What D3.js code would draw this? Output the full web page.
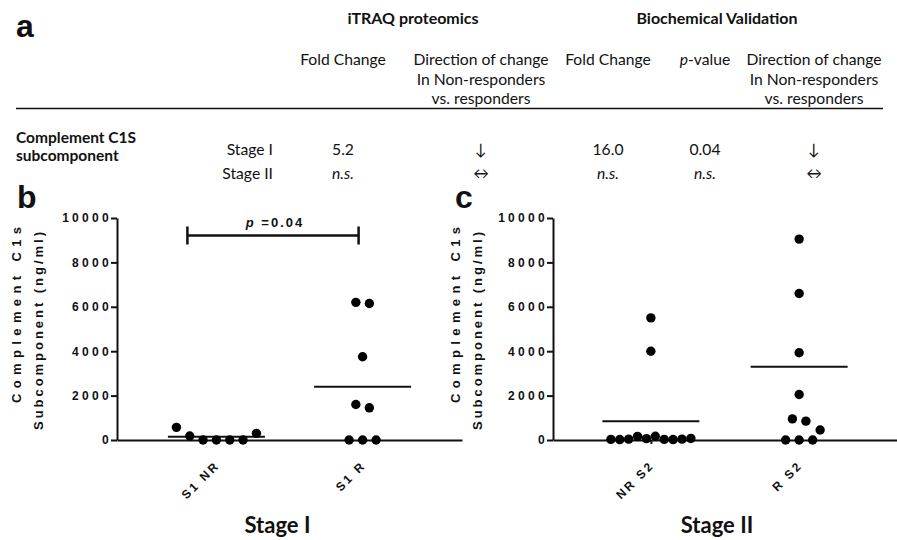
<!DOCTYPE html>
<html>
<head>
<meta charset="utf-8">
<script src="https://cdn.jsdelivr.net/npm/d3@7"></script>
<style>
body { margin: 0; background: #fff; }
text { fill: #111; }
</style>
</head>
<body>
<svg width="897" height="540"></svg>
<script>
// ---- data ----
// panel a (table)
var groupHeads = ['iTRAQ proteomics', 'Biochemical Validation'];
var colHeads = [
	['Fold Change'],
	['Direction of change', 'In Non-responders', 'vs. responders'],
	['Fold Change'],
	['p-value'],
	['Direction of change', 'In Non-responders', 'vs. responders']
];
var proteinName = ['Complement C1S', 'subcomponent'];
var stages = ['Stage I', 'Stage II'];
var stageIValues = ['5.2', '\u2193', '16.0', '0.04', '\u2193'];
var stageIIValues = ['n.s.', '\u2194', 'n.s.', 'n.s.', '\u2194'];

// panels b and c (ng/ml)
var catsI = ['S1 NR', 'S1 R'];
var s1NR = [570, 180, 0, 0, 0, 0, 300];
var s1R = [6200, 6150, 3750, 1600, 1450, 0, 0, 0];
var meansI = [150, 2400];

var catsII = ['NR S2', 'R S2'];
var nrS2 = [5500, 4000, 30, 20, 40, 160, 60, 170, 30, 20, 40, 70];
var rS2 = [9050, 6600, 3930, 2050, 950, 850, 450, 0, 0, 0];
var meansII = [850, 3300];

var yTicks = [0, 2000, 4000, 6000, 8000, 10000];
var pLabel = '0.04';

// ---- layout ----
var svg = d3.select('svg');
var tableFont = 'Lato, "Open Sans", sans-serif';
var plotFont = '"Liberation Sans", Arial, sans-serif';

svg.append('text')
	.attr('x', 16).attr('y', 37)
	.style('font', 'bold 32px ' + plotFont)
	.text('a');

var groupX = [413, 717];
svg.selectAll('.ghead')
	.data(groupHeads)
	.enter()
	.append('text')
		.attr('x', (d, i) => groupX[i])
		.attr('y', 24)
		.attr('text-anchor', 'middle')
		.style('font', 'bold 16px ' + tableFont)
		.text(d => d);

var colX = [343, 481, 608, 705, 814];
colHeads.forEach(function(lines, c) {
	lines.forEach(function(line, k) {
		var t = svg.append('text')
			.attr('x', colX[c])
			.attr('y', 65 + k * 19.5)
			.attr('text-anchor', 'middle')
			.style('font', '15.7px ' + tableFont);
		if (line === 'p-value') {
			t.append('tspan').style('font-style', 'italic').text('p');
			t.append('tspan').text('-value');
		} else {
			t.text(line);
		}
	});
});

svg.append('line')
	.attr('x1', 16).attr('x2', 883)
	.attr('y1', 108.5).attr('y2', 108.5)
	.attr('stroke', '#111').attr('stroke-width', 1.5);

proteinName.forEach(function(s, k) {
	svg.append('text')
		.attr('x', 16).attr('y', 142.5 + k * 18)
		.style('font', 'bold 15.5px ' + tableFont)
		.text(s);
});

var rowY = [155, 179];
[stageIValues, stageIIValues].forEach(function(vals, r) {
	svg.append('text')
		.attr('x', 273).attr('y', rowY[r])
		.attr('text-anchor', 'end')
		.style('font', '15.7px ' + tableFont)
		.text(stages[r]);
	vals.forEach(function(v, c) {
		svg.append('text')
			.attr('x', colX[c]).attr('y', rowY[r])
			.attr('text-anchor', 'middle')
			.style('font', '15.7px ' + tableFont)
			.style('font-style', v === 'n.s.' ? 'italic' : 'normal')
			.text(v);
	});
});

// ---- dot plots ----
var y = d3.scaleLinear()
	.domain([0, 10000])
	.range([440, 218]);

// rows of near-equal values are spread sideways, GraphPad style
function swarm(vals, cx) {
	var pts = vals.map((v, i) => ({ v: v, i: i, y: y(v) }));
	var sorted = pts.slice().sort((a, b) => b.y - a.y);
	var rows = [], cur = [];
	sorted.forEach(function(p, k) {
		if (k && Math.abs(p.y - sorted[k - 1].y) >= 8.5) { rows.push(cur); cur = []; }
		cur.push(p);
	});
	rows.push(cur);
	var placed = [];
	rows.forEach(function(row) {
		row.sort((a, b) => a.i - b.i);
		var n = row.length,
			step = n > 1 ? Math.min(13.5, 80 / (n - 1)) : 0,
			shift = 0;
		var xAt = k => cx + shift + (k - (n - 1) / 2) * step;
		var hits = () => row.some((p, k) => placed.some(q => Math.hypot(q.x - xAt(k), q.y - p.y) < 12));
		while (hits() && shift < 60) shift += 7;
		row.forEach(function(p, k) { p.x = xAt(k); placed.push(p); });
	});
	return pts;
}

function dotPanel(cfg) {
	var x = d3.scalePoint()
		.domain(cfg.cats)
		.range([cfg.x0, cfg.x1])
		.padding(cfg.pad);

	var g = svg.append('g');

	g.append('text')
		.attr('x', cfg.letterX).attr('y', 208)
		.style('font', 'bold 32px ' + plotFont)
		.text(cfg.letter);

	var yAxis = d3.axisLeft(y)
		.tickValues(yTicks)
		.tickFormat(d3.format('d'))
		.tickSize(6)
		.tickSizeOuter(0)
		.tickPadding(-1);

	var ya = g.append('g')
		.attr('transform', 'translate(' + cfg.x0 + ',0)')
		.call(yAxis);
	ya.selectAll('path, line').attr('stroke', '#111').attr('stroke-width', 2);
	ya.selectAll('text')
		.style('font', 'bold 12px ' + plotFont)
		.style('letter-spacing', '3.3px')
		.attr('fill', '#111');

	var xAxis = d3.axisBottom(x)
		.tickSize(4)
		.tickSizeOuter(0)
		.tickFormat('');
	var xa = g.append('g')
		.attr('transform', 'translate(0,440)')
		.call(xAxis);
	xa.selectAll('path, line').attr('stroke', '#111').attr('stroke-width', 2);

	g.selectAll('.xlab')
		.data(cfg.cats)
		.enter()
		.append('text')
			.attr('transform', d => 'translate(' + (x(d) + 4) + ',466) rotate(-45)')
			.attr('text-anchor', 'end')
			.style('font', 'bold 12px ' + plotFont)
			.style('letter-spacing', '2.5px')
			.text(d => d);

	// y title, two lines
	g.append('text')
		.attr('transform', 'translate(' + (cfg.x0 - cfg.titleOff) + ',315) rotate(-90)')
		.attr('text-anchor', 'middle')
		.attr('textLength', 176)
		.attr('lengthAdjust', 'spacing')
		.style('font', 'bold 13px ' + plotFont)
		.text('Complement C1s');
	g.append('text')
		.attr('transform', 'translate(' + (cfg.x0 - cfg.titleOff + 22) + ',331) rotate(-90)')
		.attr('text-anchor', 'middle')
		.attr('textLength', 198)
		.attr('lengthAdjust', 'spacing')
		.style('font', 'bold 13px ' + plotFont)
		.text('Subcomponent (ng/ml)');

	// mean lines
	g.selectAll('.mean')
		.data(cfg.means)
		.enter()
		.append('line')
			.attr('x1', (d, i) => x(cfg.cats[i]) - 48.5)
			.attr('x2', (d, i) => x(cfg.cats[i]) + 48.5)
			.attr('y1', d => y(d))
			.attr('y2', d => y(d))
			.attr('stroke', '#111')
			.attr('stroke-width', 2);

	// dots
	cfg.series.forEach(function(vals, i) {
		g.selectAll('.dot' + i)
			.data(swarm(vals, x(cfg.cats[i])))
			.enter()
			.append('circle')
				.attr('cx', d => d.x)
				.attr('cy', d => d.y)
				.attr('r', 4.7)
				.attr('fill', '#000');
	});

	g.append('text')
		.attr('x', (cfg.x0 + cfg.x1) / 2 + cfg.titleDx)
		.attr('y', 533)
		.attr('text-anchor', 'middle')
		.style('font', 'bold 22px ' + tableFont)
		.text(cfg.title);

	return x;
}

var xI = dotPanel({
	cats: catsI, series: [s1NR, s1R], means: meansI,
	x0: 117, x1: 462, pad: 0.68, letter: 'b', letterX: 17,
	title: 'Stage I', titleDx: -12, titleOff: 96
});

dotPanel({
	cats: catsII, series: [nrS2, rS2], means: meansII,
	x0: 553, x1: 897, pad: 0.66, letter: 'c', letterX: 455,
	title: 'Stage II', titleDx: -8, titleOff: 93
});

// significance bracket in panel b
var bx1 = xI(catsI[0]) - 29,
	bx2 = xI(catsI[1]) - 4,
	by = 235.5;
svg.append('path')
	.attr('d', 'M' + bx1 + ',' + (by - 9) + 'V' + (by + 9) + 'M' + bx1 + ',' + by + 'H' + bx2 +
		'M' + bx2 + ',' + (by - 9) + 'V' + (by + 9))
	.attr('fill', 'none')
	.attr('stroke', '#111')
	.attr('stroke-width', 2.5);

var pt = svg.append('text')
	.attr('x', (bx1 + bx2) / 2 + 2)
	.attr('y', 227)
	.attr('text-anchor', 'middle')
	.style('font', 'bold 13px ' + plotFont)
	.style('letter-spacing', '2px');
pt.append('tspan').style('font-style', 'italic').text('p');
pt.append('tspan').text(' =' + pLabel);
</script>
</body>
</html>
